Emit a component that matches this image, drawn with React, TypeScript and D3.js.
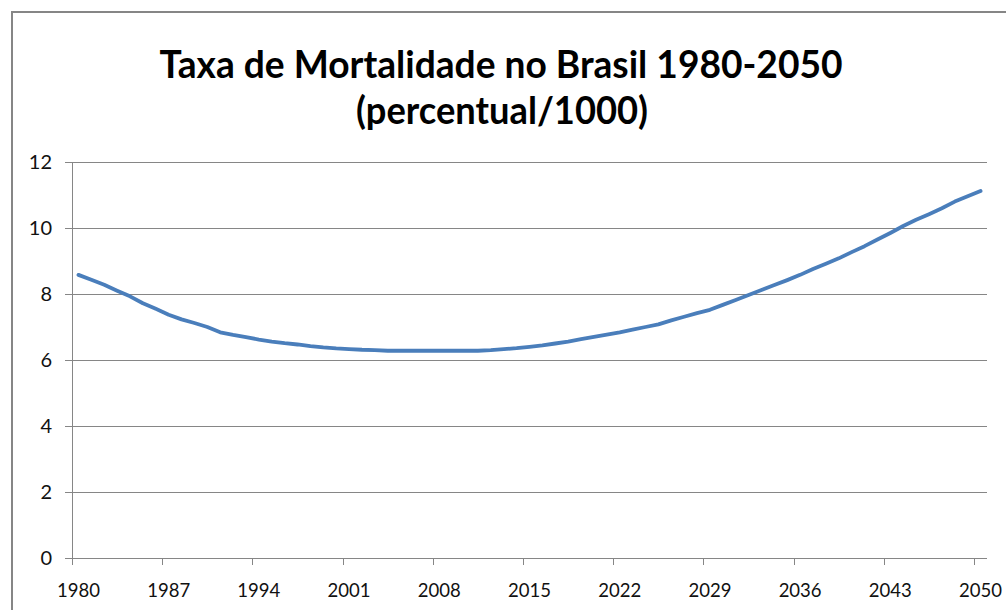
import React from "react";
import * as d3 from "d3";

const years: number[] = d3.range(1980, 2051);
const mortalityRate: number[] = [
  8.58, 8.43, 8.28, 8.1, 7.93, 7.72, 7.55, 7.37, 7.23, 7.12,
  7.0, 6.84, 6.76, 6.69, 6.62, 6.56, 6.51, 6.47, 6.42, 6.38,
  6.35, 6.33, 6.31, 6.3, 6.28, 6.28, 6.28, 6.28, 6.28, 6.28,
  6.28, 6.28, 6.3, 6.33, 6.36, 6.4, 6.44, 6.5, 6.56, 6.63,
  6.7, 6.77, 6.84, 6.92, 7.0, 7.08, 7.2, 7.31, 7.42, 7.52,
  7.67, 7.82, 7.97, 8.12, 8.27, 8.42, 8.58, 8.76, 8.92, 9.08,
  9.27, 9.45, 9.65, 9.85, 10.06, 10.25, 10.42, 10.6, 10.8, 10.96,
  11.12,
];
const yTicks: number[] = [0, 2, 4, 6, 8, 10, 12];
const xLabelYears: number[] = [1980, 1987, 1994, 2001, 2008, 2015, 2022, 2029, 2036, 2043, 2050];
const titleLines: string[] = ["Taxa de Mortalidade no Brasil 1980-2050", "(percentual/1000)"];

const W = 1006;
const H = 610;
const plot = { left: 72, right: 987, top: 162, bottom: 558 };
const gridColor = "#868686";
const font = "Lato, 'Open Sans', 'DejaVu Sans', sans-serif";

export default function App() {
  const x = d3
    .scaleBand<number>()
    .domain(years)
    .range([plot.left, plot.right])
    .paddingInner(0)
    .paddingOuter(0);
  const y = d3.scaleLinear().domain([0, 12]).range([plot.bottom, plot.top]);
  const bw = x.bandwidth();
  const cx = (yr: number) => (x(yr) as number) + bw / 2;

  const line = d3
    .line<number>()
    .x((_, i) => cx(years[i]))
    .y((d) => y(d))
    .curve(d3.curveLinear);

  const boundaryTicks = years.filter((_, i) => i % 7 === 0).map((yr) => x(yr) as number);

  return (
    <svg
      width={W}
      height={H}
      style={{ position: "absolute", left: 0, top: 0, background: "#fff" }}
      fontFamily={font}
    >
      <rect x={0} y={0} width={W} height={H} fill="#fff" />
      <rect x={12} y={12} width={W + 20} height={H + 20} fill="none" stroke="#868686" strokeWidth={2} />

      <text
        x={501}
        y={78}
        textAnchor="middle"
        fontSize={38}
        fontWeight={700}
        fill="#000"
        textLength={683}
        lengthAdjust="spacingAndGlyphs"
      >
        {titleLines[0]}
      </text>
      <text
        x={502}
        y={124}
        textAnchor="middle"
        fontSize={38}
        fontWeight={700}
        fill="#000"
        textLength={292}
        lengthAdjust="spacingAndGlyphs"
      >
        {titleLines[1]}
      </text>

      {yTicks.map((t) => (
        <g key={t}>
          <line
            x1={plot.left - 7}
            x2={plot.right}
            y1={Math.round(y(t)) + 0.5}
            y2={Math.round(y(t)) + 0.5}
            stroke={gridColor}
            strokeWidth={1}
          />
          <text
            x={52}
            y={y(t)}
            dy="0.36em"
            textAnchor="end"
            fontSize={20}
            fill="#111"
          >
            {t}
          </text>
        </g>
      ))}

      <line
        x1={plot.left + 0.5}
        x2={plot.left + 0.5}
        y1={plot.top}
        y2={plot.bottom}
        stroke={gridColor}
        strokeWidth={1}
      />

      {boundaryTicks.map((bx, i) => (
        <line
          key={i}
          x1={Math.round(bx) + 0.5}
          x2={Math.round(bx) + 0.5}
          y1={plot.bottom}
          y2={plot.bottom + 7}
          stroke={gridColor}
          strokeWidth={1}
        />
      ))}

      {xLabelYears.map((yr) => (
        <text
          key={yr}
          x={cx(yr)}
          y={597}
          textAnchor="middle"
          fontSize={20}
          fill="#111"
          textLength={43}
          lengthAdjust="spacingAndGlyphs"
        >
          {yr}
        </text>
      ))}

      <path
        d={line(mortalityRate) || ""}
        fill="none"
        stroke="#4A7EBB"
        strokeWidth={3.8}
        strokeLinejoin="round"
        strokeLinecap="round"
      />
    </svg>
  );
}
